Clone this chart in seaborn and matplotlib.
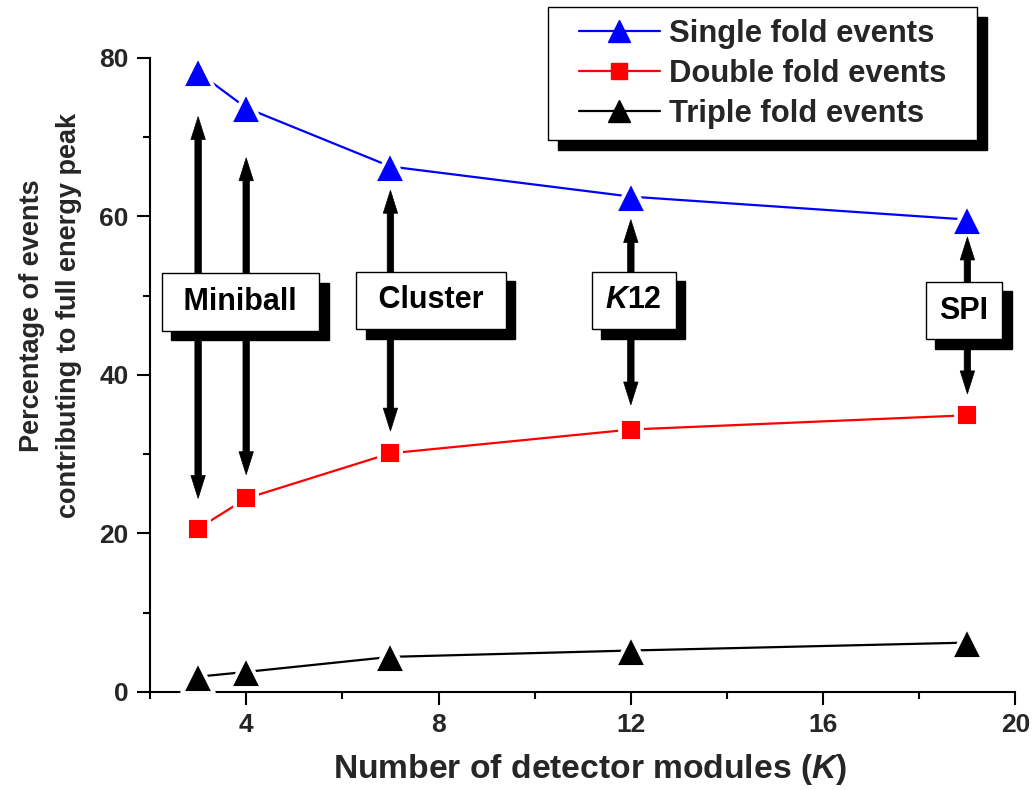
import matplotlib.pyplot as plt
import seaborn as sns
from matplotlib.lines import Line2D
from matplotlib.markers import MarkerStyle
from matplotlib.patches import Rectangle

#style
sns.set_style("ticks")
plt.rcParams['font.family'] = ['Liberation Sans', 'DejaVu Sans']
plt.rcParams['font.weight'] = 'bold'
plt.rcParams['axes.labelweight'] = 'bold'
plt.rcParams['mathtext.fontset'] = 'custom'
plt.rcParams['mathtext.rm'] = 'Liberation Sans:bold'
plt.rcParams['mathtext.it'] = 'Liberation Sans:italic:bold'
plt.rcParams['mathtext.bf'] = 'Liberation Sans:bold'

# data
modules = [3, 4, 7, 12, 19]
single_fold = [78.2, 73.7, 66.3, 62.5, 59.6]
double_fold = [20.6, 24.4, 30.1, 33.1, 34.9]
triple_fold = [1.9, 2.5, 4.4, 5.2, 6.2]

series_names = ['Single fold events', 'Double fold events', 'Triple fold events']
series_colors = ['#0000ff', '#ff0000', '#000000']
series_markers = ['^', 's', '^']

# detector arrays labelled on the plot
array_names = [' Miniball ', ' Cluster ', '$\\mathit{K}$12', 'SPI']
array_modules = [[3, 4], [7], [12], [19]]
label_pos = [(3.88, 49.2), (7.84, 49.4), (12.06, 49.4), (18.93, 48.1)]
up_gap = [5.6, 6.3, 3.0, 2.9, 2.2]      # arrow tip stops this far below the single fold marker
down_gap = [3.8, 3.0, 2.8, 3.1, 2.7]    # ... and this far above the double fold marker

fig, ax = plt.subplots(figsize=(10.34, 7.9), dpi=100)
ax.set_position([0.1451, 0.1244, 0.837, 0.8022])

# lines with markers (white edge gives the little gap around each marker)
for yvals, col, mk in zip([single_fold, double_fold, triple_fold], series_colors, series_markers):
    ms = 22.5 if mk == '^' else 16.5
    sns.lineplot(x=modules, y=yvals, ax=ax, color=col, lw=1.6,
                 marker=MarkerStyle(mk, joinstyle='round'), markersize=ms,
                 markerfacecolor=col, markeredgecolor='white', markeredgewidth=2.8,
                 zorder=3)

# vertical arrows (width in x units, head length in y units)
arrow_kw = dict(width=0.135, head_width=0.3, head_length=2.9, length_includes_head=True,
                fc='k', ec='k', lw=0.5, zorder=4)
for mods, (bx, by) in zip(array_modules, label_pos):
    for m in mods:
        i = modules.index(m)
        top = single_fold[i] - up_gap[i]
        bot = double_fold[i] + down_gap[i]
        ax.arrow(m, by, 0, top - by, **arrow_kw)
        ax.arrow(m, by, 0, bot - by, **arrow_kw)

# labelled boxes
boxes = []
for name, (bx, by) in zip(array_names, label_pos):
    t = ax.text(bx, by, name, ha='center', va='center', fontsize=22, color='k', zorder=6,
                bbox=dict(boxstyle='square,pad=0.45', fc='w', ec='k', lw=1))
    boxes.append(t)

# axes
ax.set_xlim(2, 20)
ax.set_ylim(0, 80)
ax.set_xticks([4, 8, 12, 16, 20])
ax.set_xticks([2, 6, 10, 14, 18], minor=True)
ax.set_yticks([0, 20, 40, 60, 80])
ax.set_yticks([10, 30, 50, 70], minor=True)
ax.tick_params(which='major', direction='out', length=9.5, width=1.5, labelsize=19, pad=6, color='k')
ax.tick_params(which='minor', direction='out', length=5, width=1.5, color='k')
sns.despine(ax=ax)
for s in ['left', 'bottom']:
    ax.spines[s].set_linewidth(1.5)
    ax.spines[s].set_color('k')

ax.set_xlabel('Number of detector modules ($\\mathit{K}$)', fontsize=24.2, va='baseline')
ax.xaxis.set_label_coords(0.508, -0.136)
ax.set_ylabel('Percentage of events\ncontributing to full energy peak', fontsize=19.5,
              va='center', ha='center', linespacing=1.55)
ax.yaxis.set_label_coords(-0.1155, 0.594)

# legend, frame and hard black shadow drawn by hand
handles = [Line2D([], [], color=c, marker=m, lw=1.6, mec=c, mfc=c,
                  markersize=16 if m == '^' else 11.5)
           for c, m in zip(series_colors, series_markers)]
leg = ax.legend(handles, series_names, loc='upper right',
                bbox_to_anchor=(958 / 1034, 1 - 7 / 790), bbox_transform=fig.transFigure,
                frameon=False, fontsize=22.3, handlelength=2.6, handletextpad=0.3,
                labelspacing=0.32, borderpad=0.38, borderaxespad=0)
leg.set_zorder(7)

fig.canvas.draw()
W, H = fig.bbox.width, fig.bbox.height
sh = 9.5  # shadow offset, pixels

bb = leg.get_window_extent()
x0, y0 = (bb.x0 - 19) / W, bb.y0 / H
w, h = (bb.width + 38) / W, bb.height / H
ax.add_patch(Rectangle((x0 + sh / W, y0 - sh / H), w, h, transform=fig.transFigure,
                       fc='k', ec='k', lw=1, zorder=6.5, clip_on=False))
ax.add_patch(Rectangle((x0, y0), w, h, transform=fig.transFigure,
                       fc='w', ec='k', lw=1, zorder=6.8, clip_on=False))

for t in boxes:
    pb = t.get_bbox_patch().get_window_extent()
    ax.add_patch(Rectangle(((pb.x0 + sh) / W, (pb.y0 - sh) / H), pb.width / W, pb.height / H,
                           transform=fig.transFigure, fc='k', ec='k', lw=1, zorder=5,
                           clip_on=False))

plt.savefig('out.png', dpi=100)
